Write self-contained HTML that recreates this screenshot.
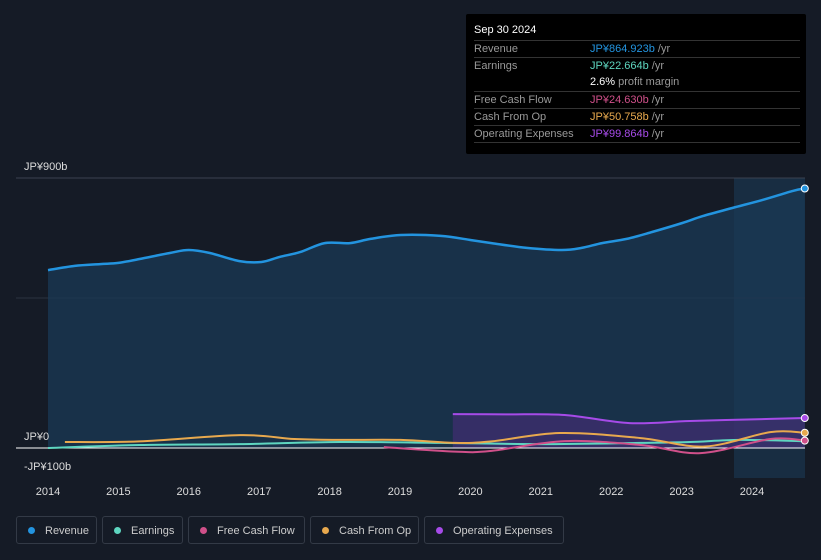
<!DOCTYPE html>
<html><head><meta charset="utf-8"><style>
body{margin:0;background:#151b26;font-family:"Liberation Sans",sans-serif;}
#wrap{position:relative;width:821px;height:560px;overflow:hidden;background:#151b26;}
.tip{position:absolute;left:466px;top:14px;width:340px;height:140px;background:#000;border-radius:2px;}
.tip .h{position:absolute;left:8px;top:10px;color:#fff;font-size:11px;}
.row{position:absolute;left:8px;width:326px;border-top:1px solid #333;font-size:11px;color:#999;height:17px;line-height:17px;}
.row span{position:absolute;left:116px;}
.leg{position:absolute;top:516px;height:28px;border:1px solid #333a46;border-radius:3px;color:#ccc;font-size:11px;line-height:28px;box-sizing:border-box;padding-left:28px;}
.leg i{position:absolute;left:11px;top:10px;width:7px;height:7px;border-radius:50%;}
</style></head><body>
<div id="wrap">
<svg id="svg" width="821" height="560" style="position:absolute;left:0;top:0"></svg>
<div class="tip">
<div class="h">Sep 30 2024</div>
<div class="row" style="top:26px">Revenue<span style="color:#2394df">JP¥864.923b <b style="color:#999;font-weight:normal">/yr</b></span></div>
<div class="row" style="top:43px">Earnings<span style="color:#5ed6c0">JP¥22.664b <b style="color:#999;font-weight:normal">/yr</b></span></div>
<div class="row" style="top:60px;border-top:none"><span style="color:#fff">2.6% <b style="color:#999;font-weight:normal">profit margin</b></span></div>
<div class="row" style="top:77px">Free Cash Flow<span style="color:#d0508a">JP¥24.630b <b style="color:#999;font-weight:normal">/yr</b></span></div>
<div class="row" style="top:94px">Cash From Op<span style="color:#e8a94e">JP¥50.758b <b style="color:#999;font-weight:normal">/yr</b></span></div>
<div class="row" style="top:111px">Operating Expenses<span style="color:#a64be8">JP¥99.864b <b style="color:#999;font-weight:normal">/yr</b></span></div>
<div class="row" style="top:128px;height:0"></div>
</div>
<div class="leg" style="left:16px;width:81px"><i style="background:#2394df"></i>Revenue</div>
<div class="leg" style="left:102px;width:81px"><i style="background:#5ed6c0"></i>Earnings</div>
<div class="leg" style="left:188px;width:117px"><i style="background:#d0508a"></i>Free Cash Flow</div>
<div class="leg" style="left:310px;width:109px"><i style="background:#e8a94e"></i>Cash From Op</div>
<div class="leg" style="left:424px;width:140px"><i style="background:#a64be8"></i>Operating Expenses</div>
</div>
<script>
const revX=[2014,2014.38,2014.74,2015,2015.3,2015.73,2016,2016.3,2016.72,2017.03,2017.29,2017.58,2017.93,2018.29,2018.58,2019.01,2019.58,2020.01,2020.3,2020.8,2021.3,2021.58,2021.87,2022.22,2022.58,2023.01,2023.3,2023.72,2024.15,2024.58,2024.75];
const revV=[593,607,613,617,630,650,660,650,623,620,637,653,683,683,697,710,707,693,683,667,660,667,683,697,720,750,773,800,827,857,865];
const earnX=[2014,2015.3,2016.73,2018.15,2019.57,2021,2022.42,2023.12,2023.83,2024.75];
const earnV=[0,10,13,20,17,13,17,20,27,22.7];
const cfoX=[2014.24,2015.3,2016.73,2017.5,2018.15,2019.01,2019.78,2020.3,2021.27,2022.42,2023.33,2024.26,2024.75];
const cfoV=[20,22,43,30,27,27,17,22,50,33,5,53,50.8];
const fcfX=[2018.77,2019.78,2020.28,2021.34,2022.42,2023.27,2024.26,2024.75];
const fcfV=[3,-12,-10,23,10,-17,30,24.6];
const opxX=[2019.75,2020.5,2021.34,2022.26,2023.12,2024.26,2024.75];
const opxV=[113,112,110,83,90,97,99.9];
const yTicks=[900,0,-100], yLabels=["JP¥900b","JP¥0","-JP¥100b"];
const xTicks=[2014,2015,2016,2017,2018,2019,2020,2021,2022,2023,2024];
const X=y=>48+(y-2014)*70.4, Y=v=>448-v*0.3;
const S=document.getElementById('svg'),NS='http://www.w3.org/2000/svg';
function mk(t,a,name){const e=document.createElementNS(NS,t);for(const k in a)e.setAttribute(k,a[k]);


S.appendChild(e);return e;}
function path(xs,vs){const p=xs.map((x,i)=>[X(x),Y(vs[i])]);let d='M'+p[0][0]+','+p[0][1];
for(let i=0;i<p.length-1;i++){const a=p[i-1]||p[i],b=p[i],c=p[i+1],e=p[i+2]||c;
const c1x=b[0]+(c[0]-a[0])/6,c1y=b[1]+(c[1]-a[1])/6,c2x=c[0]-(e[0]-b[0])/6,c2y=c[1]-(e[1]-b[1])/6;
d+=' C'+c1x+','+c1y+' '+c2x+','+c2y+' '+c[0]+','+c[1];}return d;}
mk('rect',{x:734,y:178,width:71,height:300,fill:'#1a3a55',opacity:0.6},'forecast-highlight');
mk('line',{x1:16,x2:805,y1:Y(900),y2:Y(900),stroke:'#3a4250'},'gridline-900');
mk('line',{x1:16,x2:805,y1:298,y2:298,stroke:'#2c3340'},'gridline-mid');
const rp=path(revX,revV);
mk('path',{d:rp+' L'+X(2024.75)+','+Y(0)+' L'+X(2014)+','+Y(0)+'Z',fill:'#1a3a55',opacity:0.75},'revenue-area');
const op=path(opxX,opxV);
mk('path',{d:op+' L'+X(2024.75)+','+Y(0)+' L'+X(opxX[0])+','+Y(0)+'Z',fill:'#4a2d7a',opacity:0.6},'opex-area');
mk('line',{x1:16,x2:805,y1:Y(0),y2:Y(0),stroke:'#fff','stroke-width':1},'zero-line');
mk('path',{d:path(earnX,earnV),fill:'none',stroke:'#5ed6c0','stroke-width':2},'earnings-line');
mk('path',{d:path(fcfX,fcfV),fill:'none',stroke:'#d0508a','stroke-width':2},'fcf-line');
mk('path',{d:path(cfoX,cfoV),fill:'none',stroke:'#e8a94e','stroke-width':2},'cfo-line');
mk('path',{d:op,fill:'none',stroke:'#a64be8','stroke-width':2},'opex-line');
mk('path',{d:rp,fill:'none',stroke:'#2394df','stroke-width':2.5},'revenue-line');
[[revV,'#2394df','revenue-end'],[opxV,'#a64be8','opex-end'],[cfoV,'#e8a94e','cfo-end'],[fcfV,'#d0508a','fcf-end']].forEach(([a,c,n])=>mk('circle',{cx:X(2024.75),cy:Y(a[a.length-1]),r:3.5,fill:c,stroke:'#fff','stroke-width':1},n));
yTicks.forEach((v,i)=>{const t=mk('text',{x:24,y:v<0?470:Y(v)-8,fill:'#ddd','font-size':11},'y-tick-label');t.textContent=yLabels[i];});
xTicks.forEach(v=>{const t=mk('text',{x:X(v),y:495,fill:'#ddd','font-size':11,'text-anchor':'middle'},'x-tick-label');t.textContent=v;});
</script>
</body></html>
